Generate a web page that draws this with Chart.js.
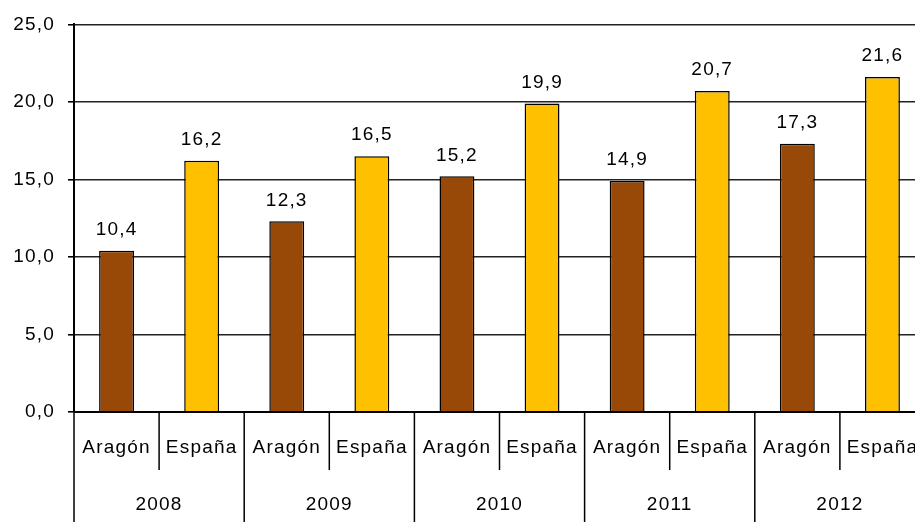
<!DOCTYPE html>
<html lang="es">
<head>
<meta charset="UTF-8">
<title>Aragón - España</title>
<script src="https://cdn.jsdelivr.net/npm/chart.js"></script>
<style>
  html, body { margin: 0; padding: 0; background: #fff; overflow: hidden; }
</style>
</head>
<body>
<canvas id="chart" width="930" height="522"></canvas>
<script>
// values
const years = ['2008', '2009', '2010', '2011', '2012'];
const regions = ['Aragón', 'España'];
const aragon = [10.4, 12.3, 15.2, 14.9, 17.3];
const espana = [16.2, 16.5, 19.9, 20.7, 21.6];
const yMin = 0, yMax = 25, yStep = 5;
const colours = ['#984807', '#FFC000'];

const FONT = '19px "Liberation Sans", Arial, sans-serif';

// interleave Aragón / España per year
const labels = [], values = [], fills = [];
years.forEach((y, i) => {
    labels.push(regions[0]); values.push(aragon[i]); fills.push(colours[0]);
    labels.push(regions[1]); values.push(espana[i]); fills.push(colours[1]);
});

const fmt = v => v.toFixed(1).replace('.', ',');

const spacing = {
    id: 'spacing',
    beforeDraw(chart) { chart.ctx.letterSpacing = '1.2px'; }
};

const valueLabels = {
    id: 'valueLabels',
    afterDatasetsDraw(chart) {
        const ctx = chart.ctx;
        const meta = chart.getDatasetMeta(0);
        ctx.save();
        ctx.font = FONT;
        ctx.fillStyle = '#000';
        ctx.textAlign = 'center';
        ctx.textBaseline = 'middle';
        meta.data.forEach((bar, i) => {
            ctx.fillText(fmt(values[i]), bar.x, bar.y - 21);
        });
        ctx.restore();
    }
};

const groupAxis = {
    id: 'groupAxis',
    afterDraw(chart) {
        const ctx = chart.ctx;
        const x = chart.scales.x;
        const area = chart.chartArea;
        const bottom = area.bottom;
        const cw = x.width / labels.length;
        ctx.save();
        ctx.strokeStyle = '#000';
        ctx.lineWidth = 2;
        ctx.beginPath();
        ctx.moveTo(area.left, bottom);
        ctx.lineTo(area.right, bottom);
        ctx.stroke();

        ctx.font = FONT;
        ctx.fillStyle = '#000';
        ctx.textAlign = 'center';
        ctx.textBaseline = 'middle';
        ctx.lineWidth = 1.5;
        labels.forEach((lab, i) => {
            const c = x.getPixelForValue(i);
            const left = c - cw / 2;
            ctx.fillText(lab, c, bottom + 36);
            ctx.beginPath();
            ctx.moveTo(left, bottom);
            ctx.lineTo(left, i % 2 === 0 ? chart.height : bottom + 58);
            ctx.stroke();
        });
        years.forEach((yr, j) => {
            const c = (x.getPixelForValue(2 * j) + x.getPixelForValue(2 * j + 1)) / 2;
            ctx.fillText(yr, c, bottom + 93);
        });
        ctx.restore();
    }
};

new Chart(document.getElementById('chart'), {
    type: 'bar',
    data: {
        labels: labels,
        datasets: [{
            data: values,
            backgroundColor: fills,
            borderColor: '#000',
            borderWidth: 1.5,
            barPercentage: 0.41,
            categoryPercentage: 1
        }]
    },
    options: {
        responsive: false,
        animation: false,
        layout: { padding: { top: 23, right: 5, bottom: 110, left: 0 } },
        plugins: { legend: { display: false }, tooltip: { enabled: false } },
        scales: {
            x: { display: false },
            y: {
                min: yMin,
                max: yMax,
                afterFit: s => { s.width = 74; },
                ticks: {
                    stepSize: yStep,
                    callback: v => fmt(v),
                    font: { family: '"Liberation Sans", Arial, sans-serif', size: 19 },
                    color: '#000',
                    padding: 13
                },
                grid: { color: '#222', lineWidth: 1.6, tickLength: 6, tickColor: '#000' },
                border: { color: '#000', width: 2 }
            }
        }
    },
    plugins: [spacing, valueLabels, groupAxis]
});
</script>
</body>
</html>
